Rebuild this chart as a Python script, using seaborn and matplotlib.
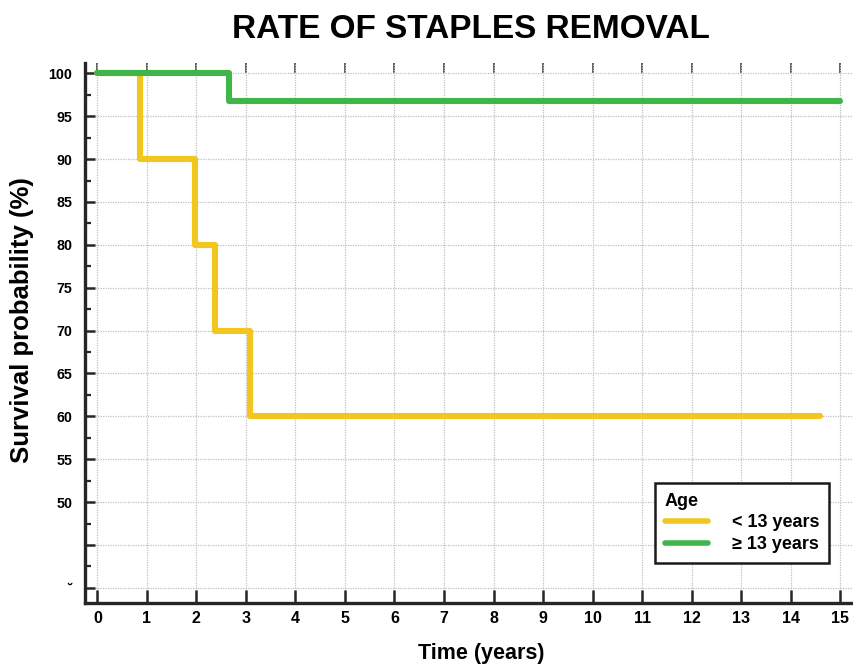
import matplotlib
matplotlib.use("Agg")
import matplotlib.pyplot as plt
import seaborn as sns
import pandas as pd
import numpy as np
from matplotlib.ticker import MultipleLocator, FixedLocator

# ---- data ----
young_time = [0, 0.87, 1.97, 2.37, 3.08, 14.6]
young_surv = [100, 90, 80, 70, 60, 60]
old_time = [0, 2.66, 15.0]
old_surv = [100, 96.8, 96.8]
group_labels = ["< 13 years", "\u2265 13 years"]
x_ticks = list(range(0, 16))
y_major = list(range(40, 101, 5))
y_labels = ["\u02d8", ""] + [str(v) for v in range(50, 101, 5)]

df = pd.DataFrame({
    "time": young_time + old_time,
    "surv": young_surv + old_surv,
    "Age": [group_labels[0]] * len(young_time) + [group_labels[1]] * len(old_time),
})

sns.set_theme(style="white")
plt.rcParams["font.family"] = ["Liberation Sans", "DejaVu Sans"]
plt.rcParams["font.weight"] = "bold"
plt.rcParams["text.color"] = "black"
plt.rcParams["axes.labelcolor"] = "black"
plt.rcParams["xtick.color"] = "black"
plt.rcParams["ytick.color"] = "black"

fig = plt.figure(figsize=(8.54, 6.66), dpi=100)
ax = fig.add_axes([85 / 854, 63.5 / 666, 1 - 85 / 854, 539.5 / 666])

palette = {group_labels[0]: "#F2C51F", group_labels[1]: "#3FB54A"}
sns.lineplot(data=df, x="time", y="surv", hue="Age", palette=palette,
             drawstyle="steps-post", estimator=None, linewidth=4.4,
             ax=ax, clip_on=False, zorder=5)

ax.set_xlim(-0.25, 15.28)
ax.set_ylim(38.3, 101.2)

# grid
ax.set_xticks(x_ticks)
ax.yaxis.set_major_locator(FixedLocator(y_major))
ax.set_yticklabels(y_labels)
ax.yaxis.set_minor_locator(FixedLocator([v + 2.5 for v in range(40, 100, 5)]))
ax.grid(True, which="major", color="#c0c0c0", linestyle=(0, (1, 1)), linewidth=0.9)
ax.set_axisbelow(True)

# spines
for s in ["top", "right"]:
    ax.spines[s].set_visible(False)
for s in ["left", "bottom"]:
    ax.spines[s].set_linewidth(2.4)
    ax.spines[s].set_color("#262626")

ax.tick_params(axis="x", which="major", direction="in", length=9.5, width=1.8,
               color="#262626", labelsize=11.5, pad=6, bottom=True,
               labelcolor="black")
ax.tick_params(axis="y", which="major", direction="in", length=7, width=1.8,
               color="#262626", labelsize=10.3, pad=9, left=True,
               labelcolor="black")
ax.tick_params(axis="y", which="minor", direction="in", length=4, width=1.6,
               color="#262626", left=True)
for lab in ax.get_xticklabels() + ax.get_yticklabels():
    lab.set_fontweight("bold")

# small ticks along the top
sec = ax.secondary_xaxis("top")
sec.set_xticks(x_ticks)
sec.set_xticklabels([])
sec.spines["top"].set_visible(False)
sec.tick_params(direction="in", length=7, width=1.1, color="#303030")

ax.set_xlabel("")
ax.set_ylabel("")
fig.text(481 / 854, 1 - 659 / 666, "Time (years)", ha="center", va="baseline",
         fontsize=15.5, fontweight="bold", color="black")
fig.text(22 / 854, 1 - 320 / 666, "Survival probability (%)", ha="center",
         va="center", rotation=90, fontsize=18.5, fontweight="bold", color="black")
fig.text(0.551, 1 - 38 / 666, "RATE OF STAPLES REMOVAL", ha="center",
         va="baseline", fontsize=24, fontweight="bold", color="black")

# legend
handles, labels = ax.get_legend_handles_labels()
leg = ax.legend(handles, labels, title="Age", loc="upper left",
                bbox_to_anchor=(655 / 854, 1 - 483 / 666),
                bbox_transform=fig.transFigure, borderaxespad=0,
                frameon=True, fancybox=False,
                framealpha=1, edgecolor="#1a1a1a", fontsize=13,
                title_fontsize=13, handlelength=2.4, alignment="left",
                borderpad=0.55, labelspacing=0.25, handletextpad=1.3)
leg.get_frame().set_linewidth(1.8)
leg.get_title().set_fontweight("bold")
for t in leg.get_texts():
    t.set_fontweight("bold")
for h in leg.get_lines():
    h.set_linewidth(4)

fig.savefig("out.png", dpi=100)
